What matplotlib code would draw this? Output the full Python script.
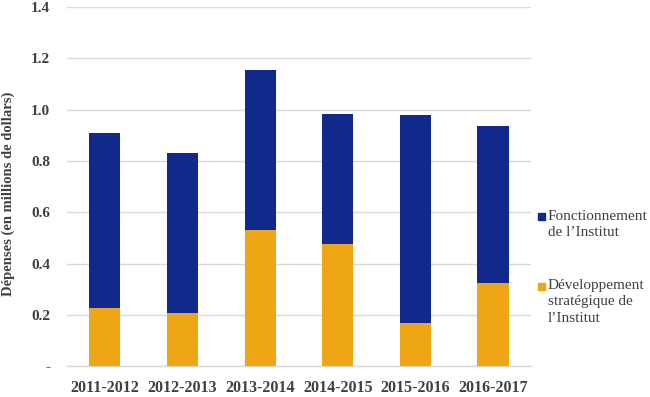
import matplotlib
matplotlib.use('Agg')
import matplotlib.pyplot as plt
from matplotlib.patches import Rectangle
import numpy as np

years = ['2011-2012', '2012-2013', '2013-2014', '2014-2015', '2015-2016', '2016-2017']
# millions de dollars
developpement = [0.227, 0.209, 0.532, 0.476, 0.169, 0.326]
fonctionnement = [0.683, 0.624, 0.624, 0.508, 0.812, 0.609]
yticks = [0, 0.2, 0.4, 0.6, 0.8, 1.0, 1.2, 1.4]
yticklabels = ['-', '0.2', '0.4', '0.6', '0.8', '1.0', '1.2', '1.4']
legend_labels = [['Fonctionnement', 'de l’Institut'],
                 ['Développement', 'stratégique de', 'l’Institut']]

blue = '#10298a'
orange = '#efa614'
txt = '#404040'

plt.rcParams['font.family'] = ['Liberation Serif', 'DejaVu Serif']

W, H = 650, 397
fig = plt.figure(figsize=(6.5, 3.97), dpi=100)
ax = fig.add_axes([0.1026, 0.0776, 0.7144, 0.9044])

x = np.arange(len(years))
ax.bar(x, developpement, width=0.4, color=orange, zorder=3)
ax.bar(x, fonctionnement, width=0.4, bottom=developpement, color=blue, zorder=3)

ax.set_xlim(-0.49, 5.49)
ax.set_ylim(0, 1.4)
ax.set_yticks(yticks)
ax.set_yticklabels(yticklabels, fontsize=11, fontweight='bold', color=txt)
ax.set_xticks(x)
ax.set_xticklabels(years, fontsize=11.5, fontweight='bold', color=txt)
ax.tick_params(length=0)
ax.tick_params(axis='y', pad=12)
ax.tick_params(axis='x', pad=10)
ax.grid(axis='y', color='#d9d9d9', linewidth=1, zorder=0)
for s in ['top', 'right', 'left']:
    ax.spines[s].set_visible(False)
ax.spines['bottom'].set_color('#d9d9d9')
ax.spines['bottom'].set_linewidth(1)

ax.set_ylabel('Dépenses (en millions de dollars)', fontsize=10.5, fontweight='bold',
              color=txt)
ax.yaxis.set_label_coords(-0.111, 0.48)

# légende à droite : carré aligné sur la première ligne
for (col, lines, y0) in [(blue, legend_labels[0], 217), (orange, legend_labels[1], 286)]:
    fig.patches.append(Rectangle(((537.5) / W, 1 - (y0 + 3.5) / H), 7 / W, 7 / H,
                                 transform=fig.transFigure, color=col))
    for i, line in enumerate(lines):
        fig.text(548 / W, 1 - (y0 + 16 * i) / H, line, fontsize=11, color=txt,
                 va='center', ha='left')

fig.savefig('out.png', dpi=100)
